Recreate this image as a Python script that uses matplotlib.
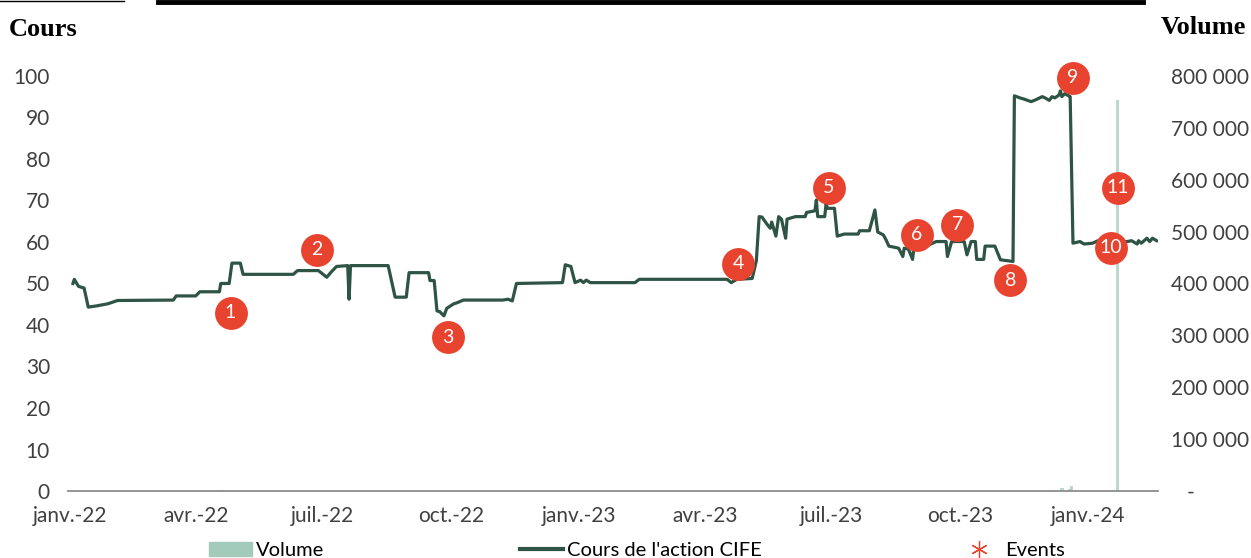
import numpy as np
import pandas as pd
import matplotlib
matplotlib.use("Agg")
import matplotlib.pyplot as plt
from matplotlib.patches import Patch
from matplotlib.lines import Line2D
from matplotlib.ticker import FuncFormatter

plt.rcParams['font.family'] = ['Lato', 'DejaVu Sans']

# cours de l'action (points de changement)
price_dates = [
    "2022-01-03", "2022-01-04", "2022-01-07", "2022-01-11", "2022-01-14", "2022-01-20",
    "2022-01-28", "2022-02-04", "2022-03-16", "2022-03-18", "2022-04-01", "2022-04-04",
    "2022-04-18", "2022-04-19", "2022-04-25", "2022-04-27", "2022-05-03", "2022-05-05",
    "2022-06-10", "2022-06-13", "2022-06-28", "2022-07-04", "2022-07-07", "2022-07-11",
    "2022-07-19", "2022-07-20", "2022-07-21", "2022-08-17", "2022-08-22", "2022-08-30",
    "2022-09-01", "2022-09-15", "2022-09-16", "2022-09-19", "2022-09-21", "2022-09-23",
    "2022-09-26", "2022-09-28", "2022-10-03", "2022-10-05", "2022-10-10", "2022-11-07",
    "2022-11-11", "2022-11-14", "2022-11-17", "2022-12-20", "2022-12-22", "2022-12-26",
    "2022-12-29", "2023-01-02", "2023-01-04", "2023-01-06", "2023-01-09", "2023-02-10",
    "2023-02-13", "2023-04-17", "2023-04-20", "2023-04-24", "2023-05-05", "2023-05-08",
    "2023-05-10", "2023-05-12", "2023-05-16", "2023-05-18", "2023-05-19", "2023-05-22",
    "2023-05-24", "2023-05-26", "2023-05-29", "2023-05-30", "2023-06-05", "2023-06-12",
    "2023-06-13", "2023-06-19", "2023-06-20", "2023-06-21", "2023-06-26", "2023-06-27",
    "2023-06-28", "2023-07-03", "2023-07-05", "2023-07-10", "2023-07-20", "2023-07-21",
    "2023-07-28", "2023-08-01", "2023-08-03", "2023-08-07", "2023-08-09", "2023-08-11",
    "2023-08-18", "2023-08-21", "2023-08-22", "2023-08-25", "2023-08-28", "2023-08-29",
    "2023-09-06", "2023-09-14", "2023-09-21", "2023-09-22", "2023-09-25", "2023-10-04",
    "2023-10-06", "2023-10-09", "2023-10-12", "2023-10-13", "2023-10-18", "2023-10-19",
    "2023-10-26", "2023-10-30", "2023-11-08", "2023-11-09", "2023-11-13", "2023-11-16",
    "2023-11-21", "2023-11-24", "2023-11-29", "2023-12-01", "2023-12-04", "2023-12-06",
    "2023-12-08", "2023-12-11", "2023-12-12", "2023-12-13", "2023-12-15", "2023-12-18",
    "2023-12-19", "2023-12-21", "2023-12-26", "2023-12-29", "2024-01-04", "2024-01-08",
    "2024-01-11", "2024-01-15", "2024-01-18", "2024-01-29", "2024-02-01", "2024-02-05",
    "2024-02-06", "2024-02-08", "2024-02-12", "2024-02-14", "2024-02-16", "2024-02-19",
]
price_values = [
    50.0, 51.0, 49.3, 48.9, 44.3, 44.6,
    45.1, 45.9, 46.0, 47.0, 47.0, 48.0,
    48.0, 50.0, 50.0, 54.9, 54.9, 52.2,
    52.2, 53.1, 53.1, 51.5, 52.7, 54.1,
    54.3, 46.2, 54.3, 54.3, 46.7, 46.7,
    52.6, 52.6, 50.7, 50.7, 43.4, 43.2,
    42.2, 44.0, 45.1, 45.3, 46.0, 46.0,
    46.2, 45.8, 50.0, 50.2, 54.5, 54.1,
    50.2, 50.8, 50.2, 50.8, 50.2, 50.2,
    51.0, 51.0, 50.2, 51.0, 51.2, 55.5,
    66.1, 66.0, 64.1, 63.3, 64.8, 61.4,
    66.1, 65.5, 60.9, 65.5, 66.1, 66.1,
    67.1, 67.5, 70.1, 66.1, 66.1, 69.2,
    68.1, 68.1, 61.4, 61.9, 61.9, 62.7,
    62.7, 67.7, 62.4, 61.7, 60.5, 59.0,
    58.5, 56.5, 58.5, 58.3, 55.8, 58.7,
    58.9, 60.1, 60.1, 56.5, 60.1, 60.1,
    56.9, 60.1, 60.1, 55.8, 55.8, 59.0,
    59.0, 55.7, 55.3, 95.2, 94.7, 94.4,
    93.8, 94.2, 95.0, 94.7, 94.1, 95.0,
    94.7, 95.4, 96.4, 95.0, 95.7, 95.2,
    95.0, 59.7, 60.1, 59.5, 59.7, 60.3,
    59.7, 60.5, 59.9, 60.1, 60.3, 59.5,
    60.3, 59.7, 60.9, 60.1, 60.9, 60.3,
]

volume_dates = ["2022-04-20", "2023-12-04", "2023-12-13", "2023-12-19", "2023-12-20", "2024-01-22"]
volume_values = [1500, 2500, 6000, 4000, 10000, 754000]

event_labels = ["1", "2", "3", "4", "5", "6", "7", "8", "9", "10", "11"]
event_dates = ["2022-04-26", "2022-06-27", "2022-09-29", "2023-04-25", "2023-06-29",
               "2023-08-31", "2023-09-29", "2023-11-06", "2023-12-21", "2024-01-17", "2024-01-22"]
event_y = [42.9, 58.1, 37.1, 54.7, 73.0, 61.7, 64.1, 50.8, 99.6, 58.6, 73.0]

tick_dates = ["2022-01-01", "2022-04-01", "2022-07-01", "2022-10-01", "2023-01-01",
              "2023-04-01", "2023-07-01", "2023-10-01", "2024-01-01"]
tick_labels = ["janv.-22", "avr.-22", "juil.-22", "oct.-22", "janv.-23",
               "avr.-23", "juil.-23", "oct.-23", "janv.-24"]

LINE = "#2e5446"
VOL = "#a3cbbb"
RED = "#e8432f"
TXT = "#404040"

fig = plt.figure(figsize=(12.51, 5.58), dpi=100)
ax = fig.add_axes([0.0544, 0.120, 0.8713, 0.744])
axv = ax.twinx()
axv.set_zorder(ax.get_zorder() - 1)
ax.patch.set_visible(False)

axv.bar(pd.to_datetime(volume_dates), volume_values, width=2.5, color=VOL, alpha=0.75, linewidth=0)
ax.plot(pd.to_datetime(price_dates), price_values, color=LINE, lw=2.3, solid_joinstyle="round")

ev_x = pd.to_datetime(event_dates)
ax.scatter(ev_x, event_y, s=560, color=RED, zorder=5, clip_on=False, linewidths=0)
for xd, yv, lab in zip(ev_x, event_y, event_labels):
    ax.text(xd, yv, lab, color="white", fontsize=14, ha="center", va="center",
            zorder=6, clip_on=False)

ax.set_xlim(pd.Timestamp("2021-12-30 12:00"), pd.Timestamp("2024-02-20"))
ax.set_ylim(0, 100)
axv.set_ylim(0, 800000)
ax.set_yticks(np.arange(0, 101, 10))
axv.set_yticks(np.arange(0, 800001, 100000))
axv.yaxis.set_major_formatter(FuncFormatter(
    lambda v, p: "   -" if v == 0 else f"{int(v):,}".replace(",", " ")))
ax.set_xticks(pd.to_datetime(tick_dates))
ax.set_xticklabels(tick_labels)

for a in (ax, axv):
    for s in a.spines.values():
        s.set_visible(False)
    a.tick_params(length=0, labelsize=15, colors=TXT)
ax.spines["bottom"].set_visible(True)
ax.spines["bottom"].set_color("#8c8c8c")
ax.spines["bottom"].set_linewidth(1.3)
ax.tick_params(axis="y", pad=13)
ax.tick_params(axis="x", pad=11)
axv.tick_params(axis="y", pad=9)

fig.text(0.007, 0.948, "Cours", family="Liberation Serif", weight="bold", fontsize=19,
         ha="left", va="center", color="black")
fig.text(0.996, 0.950, "Volume", family="Liberation Serif", weight="bold", fontsize=19,
         ha="right", va="center", color="black")

# trait noir en haut (bord du cadre)
fig.add_artist(Line2D([158 / 1251, 1143 / 1251], [0.997, 0.997], color="black", lw=3.5))
fig.add_artist(Line2D([0, 124 / 1251], [0.999, 0.999], color="black", lw=1))

handles = [Patch(color=VOL),
           Line2D([], [], color=LINE, lw=3),
           Line2D([], [], color=RED, lw=0, marker=(6, 2, 0), markersize=12, markeredgewidth=0.9)]
fig.legend(handles, ["Volume", "Cours de l'action CIFE", "Events"], loc="center",
           bbox_to_anchor=(0.509, 0.014), ncol=3, frameon=False, fontsize=14.5,
           handlelength=2.15, handletextpad=0.2, columnspacing=9.7, labelcolor="black")

fig.savefig("out.png", dpi=100)
